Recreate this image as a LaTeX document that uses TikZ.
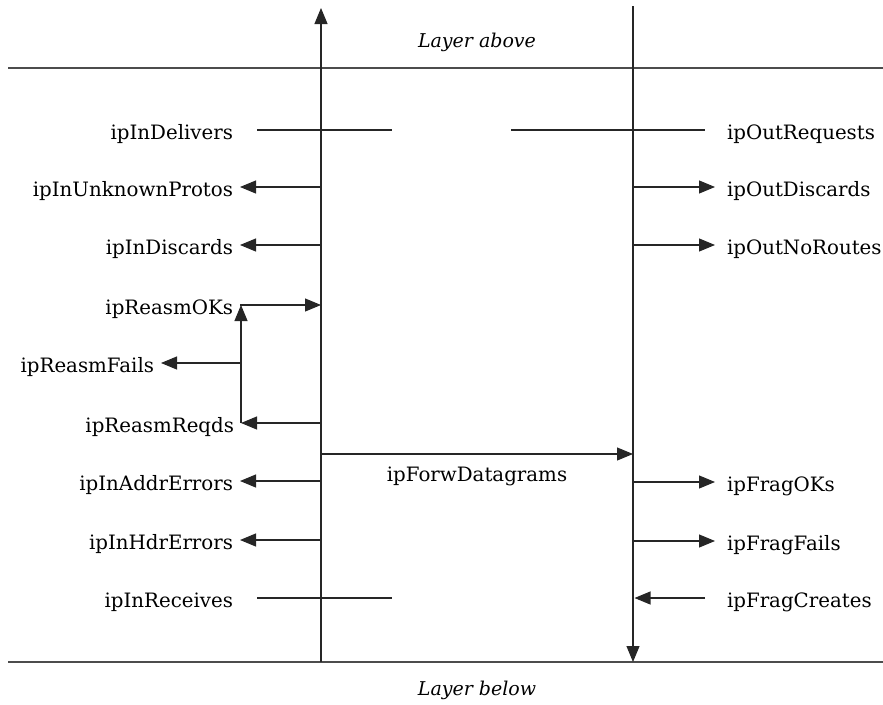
\documentclass[tikz,border=0pt]{standalone}
\usepackage{fontspec}
\setmainfont{DejaVu Serif}
\usetikzlibrary{arrows.meta}
\begin{document}
\begin{tikzpicture}[x=1pt,y=-1pt,
  ln/.style={line width=1.1pt,draw=black!85},
  arr/.style={ln,-{Triangle[length=16pt,width=13pt]}},
  lab/.style={font=\fontsize{19.8}{22}\selectfont,inner sep=0pt,text height=19pt,text depth=0pt},
  llab/.style={lab,anchor=east,outer xsep=7pt,outer ysep=0pt},
  rlab/.style={lab,anchor=west,outer xsep=12pt,outer ysep=0pt},
  layer/.style={font=\fontsize{19}{22}\selectfont\itshape,inner sep=0pt}]
\useasboundingbox (0,0) rectangle (883,704);
% layers
\coordinate (topL) at (8,68);
\coordinate (topR) at (883,68);
\coordinate (botL) at (8,662);
\coordinate (botR) at (883,662);
\draw[line width=2.2pt,draw=black!70] (topL) -- (topR);
\draw[line width=1.2pt,draw=black!70] (botL) -- (botR);
\node[layer] (above) at (477,42) {Layer above};
\node[layer] (below) at (477,690) {Layer below};
% axes
\coordinate (Lb) at (321,662);
\coordinate (Lt) at (321,8);
\coordinate (Rt) at (633,6);
\coordinate (Rb) at (633,662);
\draw[arr] (Lb) -- (Lt);
\draw[arr] (Rt) -- (Rb);
% left labels
\node[llab] (inDel)  at (240,130) {ipInDelivers};
\node[llab] (inUnk)  at (240,187) {ipInUnknownProtos};
\node[llab] (inDisc) at (240,245) {ipInDiscards};
\node[llab] (rOK)    at (240,305) {ipReasmOKs};
\node[llab] (rFail)  at (161,363) {ipReasmFails};
\node[llab] (rReq)   at (241,423) {ipReasmReqds};
\node[llab] (inAddr) at (240,481) {ipInAddrErrors};
\node[llab] (inHdr)  at (240,540) {ipInHdrErrors};
\node[llab] (inRec)  at (240,598) {ipInReceives};
% right labels
\node[rlab] (outReq)  at (715,130) {ipOutRequests};
\node[rlab] (outDisc) at (715,187) {ipOutDiscards};
\node[rlab] (outNoR)  at (715,245) {ipOutNoRoutes};
\node[rlab] (fOK)     at (715,482) {ipFragOKs};
\node[rlab] (fFail)   at (715,541) {ipFragFails};
\node[rlab] (fCr)     at (715,598) {ipFragCreates};
\node[lab,anchor=center,text height=14pt,text depth=4pt] (forw) at (477,476) {ipForwDatagrams};
% plain lines crossing the axes
\coordinate (inDelA) at (257,130); \coordinate (inDelB) at (392,130);
\coordinate (inRecA) at (257,598); \coordinate (inRecB) at (392,598);
\coordinate (outReqA) at (511,130); \coordinate (outReqB) at (705,130);
\draw[ln] (inDelA) -- (inDelB);
\draw[ln] (inRecA) -- (inRecB);
\draw[ln] (outReqA) -- (outReqB);
% left arrows
\draw[arr] (inUnk.east -| Lb) -- (inUnk.east);
\draw[arr] (inDisc.east -| Lb) -- (inDisc.east);
\draw[arr] (inAddr.east -| Lb) -- (inAddr.east);
\draw[arr] (inHdr.east -| Lb) -- (inHdr.east);
\draw[arr] (rReq.east -| Lb) -- (rReq.east);
\draw[arr] (rReq.east) -- (rOK.east -| rReq.east);
\draw[arr] (rFail.east -| rReq.east) -- (rFail.east);
\draw[arr] (rOK.east) -- (rOK.east -| Lb);
% right arrows
\draw[arr] (outDisc.west -| Rt) -- (outDisc.west);
\draw[arr] (outNoR.west -| Rt) -- (outNoR.west);
\draw[arr] (fOK.west -| Rt) -- (fOK.west);
\draw[arr] (fFail.west -| Rt) -- (fFail.west);
\draw[arr] ([xshift=-10pt]fCr.west) -- ([xshift=1.5pt]fCr.west -| Rt);
% forwarding
\coordinate (fwA) at (321,454);
\coordinate (fwB) at (633,454);
\draw[arr] (fwA) -- (fwB);
\end{tikzpicture}
\end{document}
